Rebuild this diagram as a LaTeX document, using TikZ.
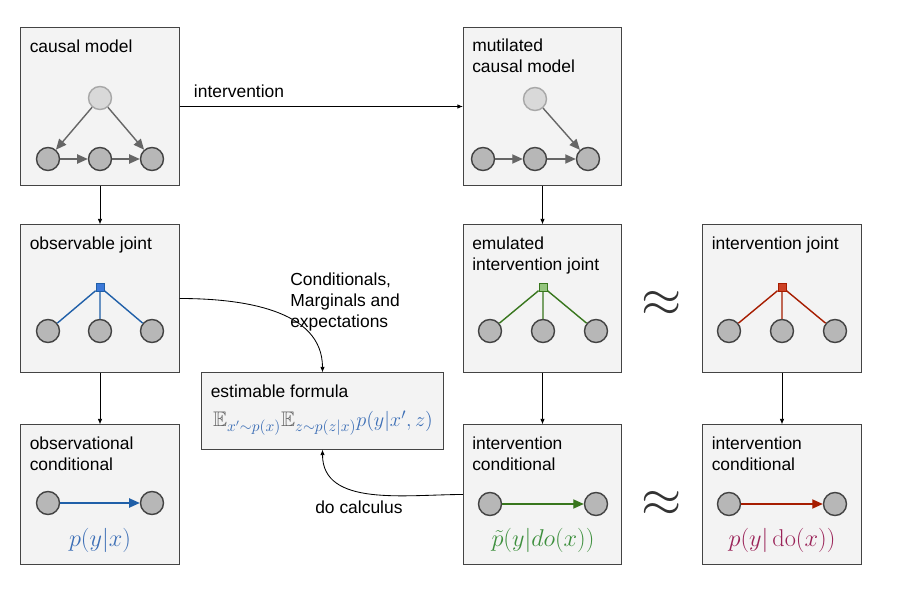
\documentclass[tikz,border=0pt]{standalone}
\usepackage{amsmath,amssymb}
\usepackage[no-math]{fontspec}
\setmainfont{Liberation Sans}
\usetikzlibrary{arrows.meta}

\definecolor{boxfill}{HTML}{F3F3F3}
\definecolor{boxline}{HTML}{444444}
\definecolor{varfill}{HTML}{B7B7B7}
\definecolor{varline}{HTML}{434343}
\definecolor{latfill}{HTML}{D9D9D9}
\definecolor{latline}{HTML}{A8A8A8}
\definecolor{edge}{HTML}{666666}
\definecolor{obsline}{HTML}{1F5FA8}
\definecolor{obsfill}{HTML}{3C78D8}
\definecolor{obstext}{HTML}{3D6FB6}
\definecolor{emuline}{HTML}{38761D}
\definecolor{emufill}{HTML}{93C47D}
\definecolor{emutext}{HTML}{3D8F3D}
\definecolor{intline}{HTML}{A61C00}
\definecolor{intfill}{HTML}{CC4125}
\definecolor{inttext}{HTML}{9A2358}
\definecolor{egray}{HTML}{666666}
\definecolor{approxgray}{HTML}{333333}

\begin{document}
\begin{tikzpicture}[x=0.025cm, y=-0.025cm, font=\fontsize{12.4}{15}\selectfont,
	pbox/.style={draw=boxline, fill=boxfill, line width=0.7pt, inner sep=0pt, minimum width=3.95cm},
	boxtitle/.style={anchor=base west, align=left, inner sep=0pt},
	var/.style={circle, draw=varline, fill=varfill, line width=1pt, minimum size=0.575cm, inner sep=0pt},
	latent/.style={var, draw=latline, fill=latfill},
	fac/.style={rectangle, draw=#1, line width=0.6pt, minimum size=0.2cm, inner sep=0pt},
	cause/.style={draw=#1, line width=1pt, -{Triangle[length=7.5pt,width=6.5pt]}},
	cause/.default=edge,
	conn/.style={line width=0.6pt, -{Latex[length=4pt,width=3.2pt]}},
	prob/.style={font=\fontsize{17.3}{20}\selectfont},
	approx/.style={text=approxgray, font=\fontsize{24.88}{28}\selectfont, scale=1.48}]
	\useasboundingbox (0,0) rectangle (904,597);
	
	% boxes
	\node[pbox, minimum height=3.95cm] (cm) at (100,106.5) {};
	\node[pbox, minimum height=3.95cm] (mcm) at (542.5,106.5) {};
	\node[pbox, minimum height=3.675cm] (oj) at (100,298.5) {};
	\node[pbox, minimum height=3.675cm] (ej) at (542.5,298.5) {};
	\node[pbox, minimum height=3.675cm] (ij) at (782,298.5) {};
	\node[pbox, minimum height=3.475cm] (oc) at (100,494.5) {};
	\node[pbox, minimum height=3.475cm] (ic) at (542.5,494.5) {};
	\node[pbox, minimum height=3.475cm] (ic2) at (782,494.5) {};
	\node[pbox, minimum width=6.025cm, minimum height=1.9cm] (ef) at (322.5,411) {};
	
	% titles (base = last line)
	\node[boxtitle] (cm-t) at ([shift={(9,26)}]cm.north west) {causal model};
	\node[boxtitle] (mcm-t) at ([shift={(9,46)}]mcm.north west) {mutilated\\causal model};
	\node[boxtitle] (oj-t) at ([shift={(9,25)}]oj.north west) {observable joint};
	\node[boxtitle] (ej-t) at ([shift={(9,46)}]ej.north west) {emulated\\intervention joint};
	\node[boxtitle] (ij-t) at ([shift={(9,25)}]ij.north west) {intervention joint};
	\node[boxtitle] (oc-t) at ([shift={(9,46)}]oc.north west) {observational\\conditional};
	\node[boxtitle] (ic-t) at ([shift={(9,46)}]ic.north west) {intervention\\conditional};
	\node[boxtitle] (ic2-t) at ([shift={(9,46)}]ic2.north west) {intervention\\conditional};
	\node[boxtitle] (ef-t) at ([shift={(9,25)}]ef.north west) {estimable formula};
	
	% causal model
	\node[latent] (cm-z) at (100,98) {};
	\node[var] (cm-x) at (48,159) {};
	\node[var] (cm-m) at (100,159) {};
	\node[var] (cm-y) at (152,159) {};
	\draw[cause] (cm-z) -- (cm-x);
	\draw[cause] (cm-z) -- (cm-y);
	\draw[cause] (cm-x) -- (cm-m);
	\draw[cause] (cm-m) -- (cm-y);
	
	% mutilated causal model
	\node[latent] (mcm-z) at (535,99) {};
	\node[var] (mcm-x) at (483,159) {};
	\node[var] (mcm-m) at (535,159) {};
	\node[var] (mcm-y) at (588,159) {};
	\draw[cause] (mcm-z) -- (mcm-y);
	\draw[cause] (mcm-x) -- (mcm-m);
	\draw[cause] (mcm-m) -- (mcm-y);
	
	% joints
	\node[fac=obsline, fill=obsfill] (oj-f) at (100,287) {};
	\node[var] (oj-a) at (48,331) {};
	\node[var] (oj-b) at (100,331) {};
	\node[var] (oj-c) at (152,331) {};
	\draw[obsline, line width=1pt] (oj-a) -- (oj-f) -- (oj-c) (oj-b) -- (oj-f);
	
	\node[fac=emuline, fill=emufill] (ej-f) at (543,287) {};
	\node[var] (ej-a) at (490,331) {};
	\node[var] (ej-b) at (543,331) {};
	\node[var] (ej-c) at (596,331) {};
	\draw[emuline, line width=1pt] (ej-a) -- (ej-f) -- (ej-c) (ej-b) -- (ej-f);
	
	\node[fac=intline, fill=intfill] (ij-f) at (782,287) {};
	\node[var] (ij-a) at (729,331) {};
	\node[var] (ij-b) at (782,331) {};
	\node[var] (ij-c) at (835,331) {};
	\draw[intline, line width=1pt] (ij-a) -- (ij-f) -- (ij-c) (ij-b) -- (ij-f);
	
	% conditionals
	\node[var] (oc-x) at (48,503) {};
	\node[var] (oc-y) at (152,503) {};
	\draw[cause=obsline] (oc-x) -- (oc-y);
	\node[prob, text=obstext] (oc-p) at (100,540) {$p(y|x)$};
	
	\node[var] (ic-x) at (490,504) {};
	\node[var] (ic-y) at (596,504) {};
	\draw[cause=emuline] (ic-x) -- (ic-y);
	\node[prob, text=emutext] (ic-p) at (543,540) {$\tilde{p}(y|do(x))$};
	
	\node[var] (ic2-x) at (729,504) {};
	\node[var] (ic2-y) at (835,504) {};
	\draw[cause=intline] (ic2-x) -- (ic2-y);
	\node[prob, text=inttext] (ic2-p) at (782,540) {$p(y|\operatorname{do}(x))$};
	
	\node[font=\fontsize{15}{18}\selectfont, text=obstext] (ef-p) at (323,423)
		{$\textcolor{egray}{\mathbb{E}}_{x'\sim p(x)}\textcolor{egray}{\mathbb{E}}_{z\sim p(z|x)}p(y|x',z)$};
	
	\node[approx] (ap1) at (662,304) {$\approx$};
	\node[approx] (ap2) at (662,504) {$\approx$};
	
	% connectors
	\draw[conn] (cm) -- node[above=3pt, pos=.21] (int-l) {intervention} (mcm);
	\draw[conn] (cm) -- (oj);
	\draw[conn] (oj) -- (oc);
	\draw[conn] (mcm) -- (ej);
	\draw[conn] (ej) -- (ic);
	\draw[conn] (ij) -- (ic2);
	\draw[conn] (oj.east) to[out=0, in=90] (ef.north);
	\draw[conn] (ic.west) to[out=180, in=-90] (ef.south);
	\node[boxtitle] (marg-l) at (290,328) {Conditionals,\\Marginals and\\expectations};
	\node[boxtitle] (do-l) at (315,514) {do calculus};
	
\end{tikzpicture}
\end{document}
